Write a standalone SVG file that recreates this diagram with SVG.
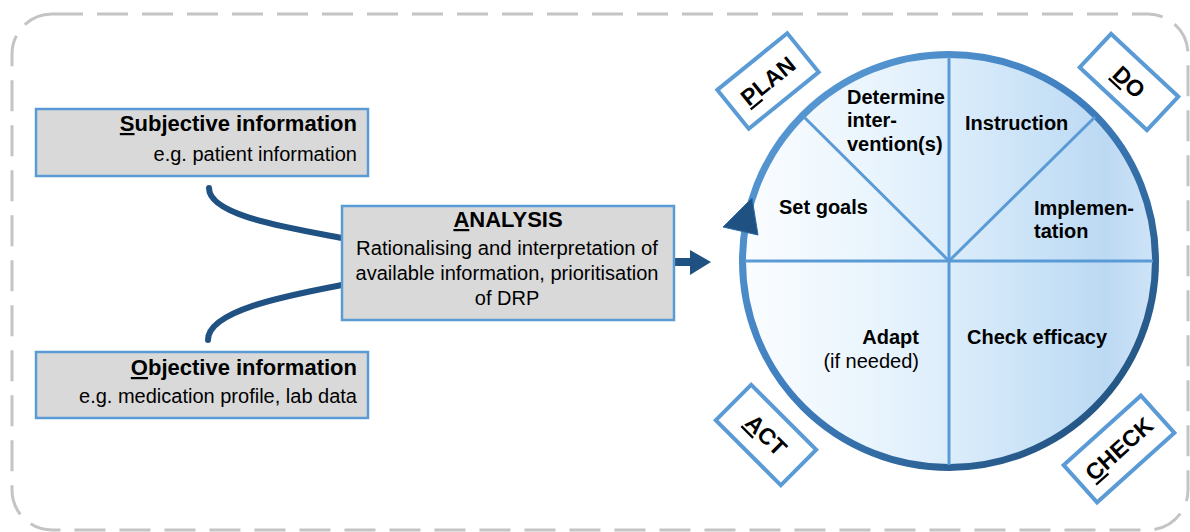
<svg xmlns="http://www.w3.org/2000/svg" width="1190" height="532" viewBox="0 0 1190 532">
  <defs>
    <linearGradient id="cycleFill" x1="743" y1="0" x2="1156" y2="0" gradientUnits="userSpaceOnUse">
      <stop offset="0" stop-color="#fbfdff"/>
      <stop offset="0.3" stop-color="#eaf5fd"/>
      <stop offset="0.5" stop-color="#dcedfb"/>
      <stop offset="0.75" stop-color="#c6e0f6"/>
      <stop offset="0.88" stop-color="#bcd9f3"/>
      <stop offset="1" stop-color="#cfe4f7"/>
    </linearGradient>
    <linearGradient id="ringStroke" x1="760" y1="80" x2="1130" y2="450" gradientUnits="userSpaceOnUse">
      <stop offset="0" stop-color="#5b9bd5"/>
      <stop offset="0.45" stop-color="#3f7fbf"/>
      <stop offset="1" stop-color="#1f4e79"/>
    </linearGradient>
    <style>
      text { font-family: "Liberation Sans", Arial, sans-serif; fill: #000; }
      .info { fill: #d9d9d9; stroke: #5b9bd5; stroke-width: 2.5; }
      .title { font-size: 22px; font-weight: bold; }
      .sub { font-size: 20px; }
      .seg { font-size: 20px; font-weight: bold; }
      .divider { stroke: #5b9bd5; stroke-width: 3; fill: none; }
      .tag { fill: #fff; stroke: #5b9bd5; stroke-width: 4; }
      .tagtext { font-size: 23px; font-weight: bold; text-anchor: middle; }
      .flow { fill: none; stroke: #1f5182; stroke-width: 6; stroke-linecap: round; }
      .u { text-decoration: underline; }
    </style>
  </defs>

  <!-- dashed frame around the whole process -->
  <rect id="frame" x="12" y="14" width="1176" height="516" rx="40" ry="40" fill="none" stroke="#c4c4c4" stroke-width="3" stroke-dasharray="31 14"/>

  <!-- connectors -->
  <g id="connectors">
    <path class="flow" d="M209,188 C209,216 290,228 342,238"/>
    <path class="flow" d="M208,340 C208,310 290,295 342,285"/>
    <line x1="674" y1="262" x2="693" y2="262" stroke="#1f5182" stroke-width="8"/>
    <polygon points="690,250 711,262 690,275" fill="#1f5182"/>
  </g>

  <!-- information sources -->
  <g id="node-subjective">
    <rect class="info" x="36" y="109" width="332" height="67"/>
    <text class="title" x="357" y="131" text-anchor="end"><tspan class="u">S</tspan>ubjective information</text>
    <text class="sub" x="357" y="161" text-anchor="end">e.g. patient information</text>
  </g>

  <g id="node-objective">
    <rect class="info" x="36" y="352" width="332" height="66"/>
    <text class="title" x="357" y="375" text-anchor="end"><tspan class="u">O</tspan>bjective information</text>
    <text class="sub" x="357" y="403" text-anchor="end">e.g. medication profile, lab data</text>
  </g>

  <g id="node-analysis">
    <rect class="info" x="342" y="206" width="332" height="114"/>
    <text class="title" x="508" y="227" text-anchor="middle"><tspan class="u">A</tspan>NALYSIS</text>
    <text class="sub" x="507" y="255" text-anchor="middle" textLength="302" lengthAdjust="spacingAndGlyphs">Rationalising and interpretation of</text>
    <text class="sub" x="507" y="280" text-anchor="middle" textLength="303" lengthAdjust="spacingAndGlyphs">available information, prioritisation</text>
    <text class="sub" x="507" y="305" text-anchor="middle">of DRP</text>
  </g>

  <!-- PDCA cycle -->
  <g id="node-cycle">
    <circle cx="949" cy="261" r="206.5" fill="url(#cycleFill)" stroke="url(#ringStroke)" stroke-width="7"/>
    <line class="divider" x1="745" y1="261" x2="1153" y2="261"/>
    <line class="divider" x1="949" y1="57" x2="949" y2="465"/>
    <line class="divider" x1="949" y1="261" x2="804" y2="117"/>
    <line class="divider" x1="949" y1="261" x2="1095" y2="117"/>
    <polygon points="752,198 723,227 758,235" fill="#1f5182" stroke="#2e6aa3" stroke-width="1"/>

    <text class="seg" x="847" y="104">Determine</text>
    <text class="seg" x="847" y="127">inter-</text>
    <text class="seg" x="847" y="151">vention(s)</text>
    <text class="seg" x="965" y="130">Instruction</text>
    <text class="seg" x="779" y="214">Set goals</text>
    <text class="seg" x="1034" y="215">Implemen-</text>
    <text class="seg" x="1034" y="238">tation</text>
    <text class="seg" x="919" y="344" text-anchor="end">Adapt</text>
    <text class="sub" x="919" y="368" text-anchor="end">(if needed)</text>
    <text class="seg" x="967" y="344">Check efficacy</text>
  </g>

  <!-- phase tags -->
  <g id="node-plan" transform="translate(768,81) rotate(-39)">
    <rect class="tag" x="-45" y="-25" width="90" height="50"/>
    <text class="tagtext" x="0" y="8"><tspan class="u">P</tspan>LAN</text>
  </g>

  <g id="node-do" transform="translate(1129,82) rotate(43)">
    <rect class="tag" x="-46" y="-23" width="92" height="46"/>
    <text class="tagtext" x="0" y="8"><tspan class="u">D</tspan>O</text>
  </g>

  <g id="node-act" transform="translate(766,435) rotate(45)">
    <rect class="tag" x="-46" y="-25" width="92" height="50"/>
    <text class="tagtext" x="0" y="8"><tspan class="u">A</tspan>CT</text>
  </g>

  <g id="node-check" transform="translate(1119,449) rotate(-42)">
    <rect class="tag" x="-52" y="-25" width="104" height="50"/>
    <text class="tagtext" x="0" y="8"><tspan class="u">C</tspan>HECK</text>
  </g>
</svg>
